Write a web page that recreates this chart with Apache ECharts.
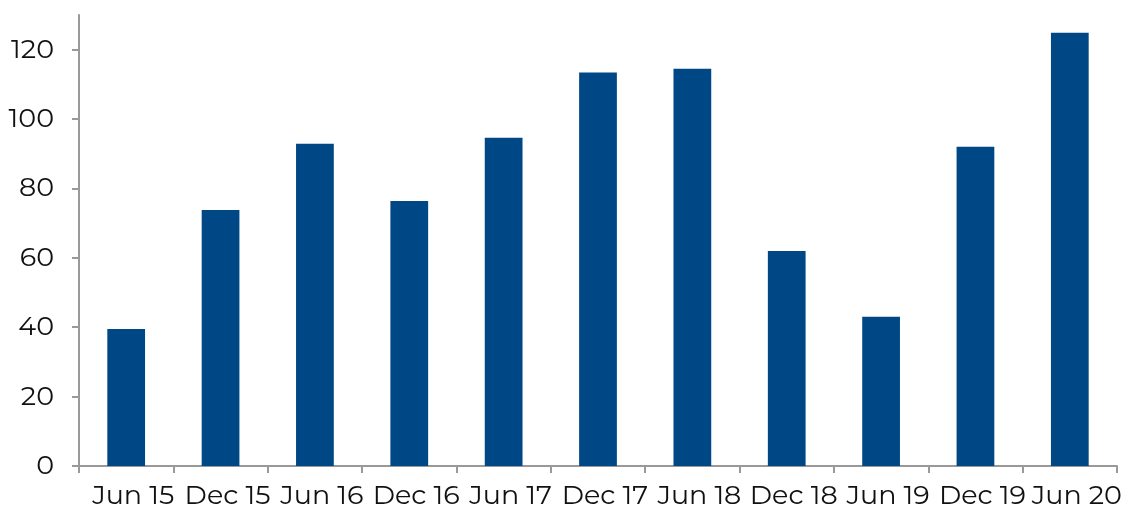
<!DOCTYPE html>
<html><head><meta charset="utf-8">
<script src="https://cdn.jsdelivr.net/npm/echarts@6/dist/echarts.min.js"></script>
<style>html,body{margin:0;padding:0;background:#fff}#c{width:1131px;height:513px}</style>
</head><body><div id="c"></div>
<script>
const categories = ['Jun 15','Dec 15','Jun 16','Dec 16','Jun 17','Dec 17','Jun 18','Dec 18','Jun 19','Dec 19','Jun 20'];
const values = [39.5, 73.8, 92.9, 76.4, 94.6, 113.4, 114.5, 62, 43, 92, 124.9];
const yTicks = [0, 20, 40, 60, 80, 100, 120];
const font = 'Montserrat, "Noto Sans", sans-serif';
const chart = echarts.init(document.getElementById('c'));
chart.setOption({
  animation: false,
  grid: {left: 79, right: 14, top: 15, bottom: 47, outerBoundsMode: 'none'},
  xAxis: {
    type: 'category', data: categories,
    axisLine: {lineStyle: {color: '#999', width: 2}},
    axisTick: {show: true, length: 7, lineStyle: {color: '#999', width: 2}},
    axisLabel: {color: '#111', fontSize: 27, fontFamily: font, margin: 17, interval: 0, padding: [0, 0, 0, 14]}
  },
  yAxis: {
    type: 'value', min: 0, max: 130, interval: 20,
    axisLine: {show: true, lineStyle: {color: '#999', width: 2}},
    axisTick: {show: true, length: 7, lineStyle: {color: '#999', width: 2}, customValues: yTicks},
    axisLabel: {color: '#111', fontSize: 27, fontFamily: font, margin: 25, showMaxLabel: false,
      formatter: v => (yTicks.indexOf(v) >= 0 ? String(v) : '')},
    splitLine: {show: false}
  },
  series: [{
    type: 'bar', data: values, barWidth: '40%',
    itemStyle: {color: '#004785'}
  }]
});
</script></body></html>
